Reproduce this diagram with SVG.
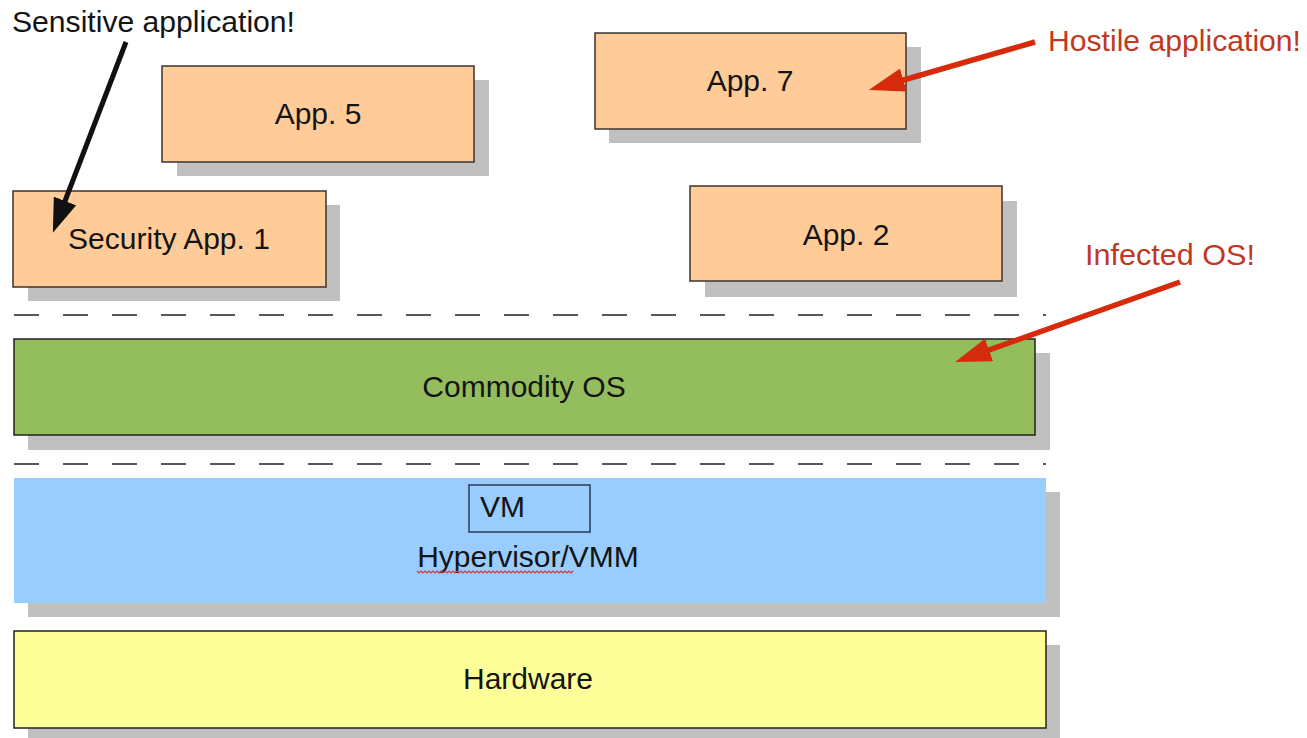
<svg xmlns="http://www.w3.org/2000/svg" width="1307" height="738" viewBox="0 0 1307 738">
  <defs>
    <style>
      text { font-family: "Liberation Sans", Arial, sans-serif; font-size: 30px; fill: #141414; }
      .mid { text-anchor: middle; }
      .shadow { fill: #c0c0c0; }
      .app { fill: #ffcc99; stroke: #3a3330; stroke-width: 1.5; }
      .os { fill: #94be5e; stroke: #222; stroke-width: 1.5; }
      .hyp { fill: #99ccff; }
      .hw { fill: #ffff99; stroke: #222; stroke-width: 1.5; }
      .vm { fill: none; stroke: #2e3a55; stroke-width: 1.5; }
      .sep { stroke: #222; stroke-width: 1.5; stroke-dasharray: 25 24; fill: none; }
      .note { fill: #c0391f; }
      .blk { stroke: #111; stroke-width: 5; fill: none; }
      .red { stroke: #d52b0b; stroke-width: 5.5; fill: none; }
      .squig { stroke: #d23b3b; stroke-width: 1.2; fill: none; }
    </style>
    <marker id="headBlack" markerUnits="userSpaceOnUse" markerWidth="34" markerHeight="24" viewBox="0 0 34 24" refX="14" refY="12" orient="auto">
      <path d="M0,0 L34,12 L0,24 Z" fill="#111"/>
    </marker>
    <marker id="headRed" markerUnits="userSpaceOnUse" markerWidth="36" markerHeight="24" viewBox="0 0 36 24" refX="16" refY="12" orient="auto">
      <path d="M0,0 L36,12 L0,24 Z" fill="#d52b0b"/>
    </marker>
  </defs>

  <rect width="1307" height="738" fill="#ffffff"/>

  <!-- layer separators -->
  <g id="separators">
    <line class="sep" x1="14" y1="315" x2="1046" y2="315"/>
    <line class="sep" x1="14" y1="464" x2="1046" y2="464"/>
  </g>

  <!-- application boxes -->
  <g id="app5">
    <rect class="shadow" x="177" y="80" width="312" height="96"/>
    <rect class="app" x="162" y="66" width="312" height="96"/>
    <text class="mid" x="318" y="124">App. 5</text>
  </g>
  <g id="app7">
    <rect class="shadow" x="609" y="47" width="312" height="96"/>
    <rect class="app" x="595" y="33" width="311" height="96"/>
    <text class="mid" x="750" y="91">App. 7</text>
  </g>
  <g id="security-app1">
    <rect class="shadow" x="28" y="205" width="312" height="96"/>
    <rect class="app" x="13" y="191" width="313" height="96"/>
    <text class="mid" x="169" y="249">Security App. 1</text>
  </g>
  <g id="app2">
    <rect class="shadow" x="705" y="201" width="312" height="96"/>
    <rect class="app" x="690" y="186" width="312" height="95"/>
    <text class="mid" x="846" y="245">App. 2</text>
  </g>

  <!-- system layers -->
  <g id="commodity-os">
    <rect class="shadow" x="28" y="353" width="1022" height="97"/>
    <rect class="os" x="14" y="339" width="1021" height="96"/>
    <text class="mid" x="524" y="397">Commodity OS</text>
  </g>
  <g id="hypervisor">
    <rect class="shadow" x="28" y="492" width="1032" height="125"/>
    <rect class="hyp" x="14" y="478" width="1032" height="125"/>
    <text class="mid" x="528" y="567">Hypervisor/VMM</text>
    <path class="squig" d="M417,571 l2,2 l2,-2 l2,2 l2,-2 l2,2 l2,-2 l2,2 l2,-2 l2,2 l2,-2 l2,2 l2,-2 l2,2 l2,-2 l2,2 l2,-2 l2,2 l2,-2 l2,2 l2,-2 l2,2 l2,-2 l2,2 l2,-2 l2,2 l2,-2 l2,2 l2,-2 l2,2 l2,-2 l2,2 l2,-2 l2,2 l2,-2 l2,2 l2,-2 l2,2 l2,-2 l2,2 l2,-2 l2,2 l2,-2 l2,2 l2,-2 l2,2 l2,-2 l2,2 l2,-2 l2,2 l2,-2 l2,2 l2,-2 l2,2 l2,-2 l2,2 l2,-2 l2,2 l2,-2 l2,2 l2,-2 l2,2 l2,-2 l2,2 l2,-2 l2,2 l2,-2 l2,2 l2,-2 l2,2 l2,-2 l2,2 l2,-2 l2,2 l2,-2 l2,2 l2,-2 l2,2 l2,-2"/>
  </g>
  <g id="vm">
    <rect class="vm" x="469" y="485" width="121" height="47"/>
    <text x="480" y="517">VM</text>
  </g>
  <g id="hardware">
    <rect class="shadow" x="28" y="645" width="1032" height="100"/>
    <rect class="hw" x="14" y="631" width="1032" height="97"/>
    <text class="mid" x="528" y="689">Hardware</text>
  </g>

  <!-- callout labels -->
  <g id="label-sensitive">
    <text x="12" y="32" textLength="283" lengthAdjust="spacingAndGlyphs">Sensitive application!</text>
  </g>
  <g id="label-hostile">
    <text class="note" x="1048" y="51" textLength="253" lengthAdjust="spacingAndGlyphs">Hostile application!</text>
  </g>
  <g id="label-infected">
    <text class="note" x="1085" y="265" textLength="170" lengthAdjust="spacingAndGlyphs">Infected OS!</text>
  </g>

  <!-- callout arrows -->
  <g id="connectors">
    <line class="blk" x1="126" y1="42" x2="60" y2="214" marker-end="url(#headBlack)"/>
    <line class="red" x1="1035" y1="42" x2="888" y2="84.5" marker-end="url(#headRed)"/>
    <line class="red" x1="1180" y1="282" x2="974" y2="355.3" marker-end="url(#headRed)"/>
  </g>
</svg>
